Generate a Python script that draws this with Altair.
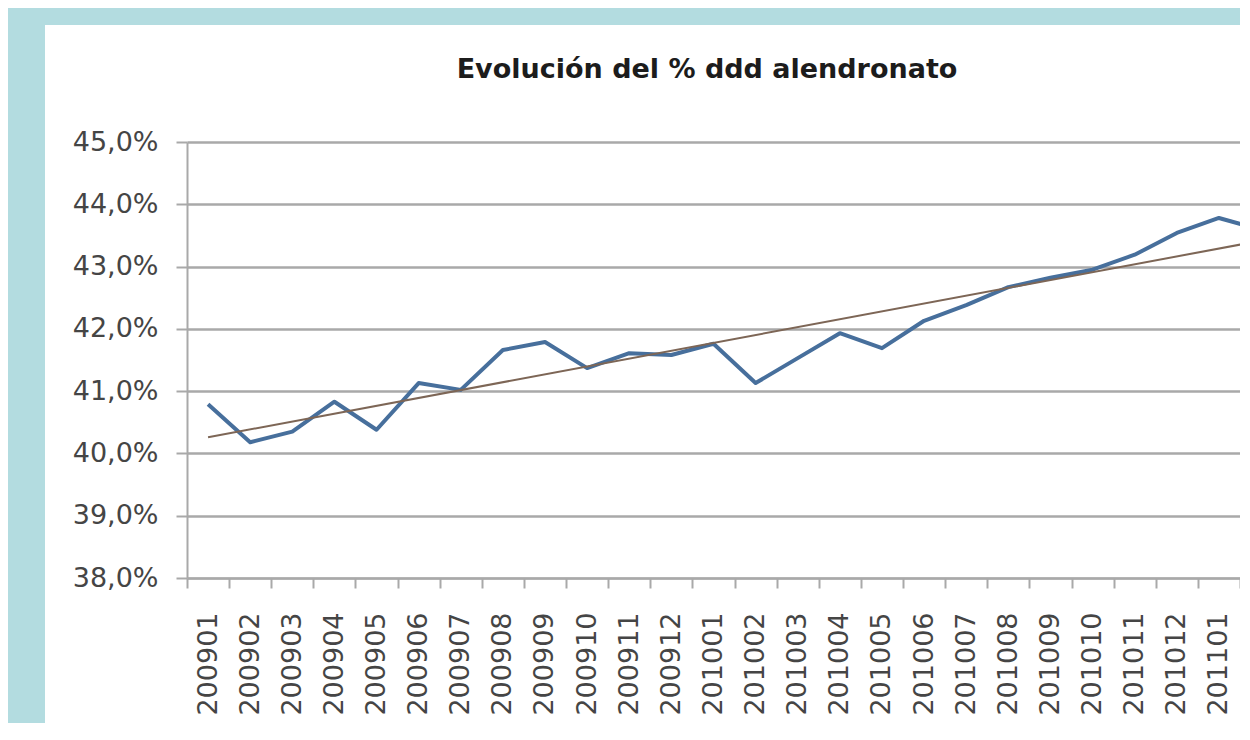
import altair as alt
import pandas as pd

# ---- data ----
months = ["200901", "200902", "200903", "200904", "200905", "200906",
          "200907", "200908", "200909", "200910", "200911", "200912",
          "201001", "201002", "201003", "201004", "201005", "201006",
          "201007", "201008", "201009", "201010", "201011", "201012",
          "201101", "201102"]
pct = [40.79, 40.18, 40.35, 40.83, 40.38, 41.13, 41.02, 41.66, 41.79, 41.37,
       41.61, 41.58, 41.76, 41.13, 41.53, 41.93, 41.69, 42.13, 42.38, 42.67,
       42.82, 42.95, 43.19, 43.54, 43.78, 43.59]
y_ticks = [38, 39, 40, 41, 42, 43, 44, 45]
title_text = "Evolución del % ddd alendronato"
visible_count = 25

df = pd.DataFrame({"idx": list(range(len(months))), "month": months, "pct": pct})

W, H = 1053, 436
PAD_L, PAD_T = 179, 134
FONT = "DejaVu Sans"
TXT = "#454545"
GRID = "#a9a9a9"

labels_js = "[" + ",".join("'" + m + "'" for m in months) + "]"
x_label_expr = (
    f"(datum.value + 0.5 < {visible_count}) ? "
    f"{labels_js}[round(datum.value + 0.5)] : ''"
)
x_tick_values = [i - 0.5 for i in range(visible_count + 1)]

x_enc = alt.X(
    "idx:Q",
    scale=alt.Scale(domain=[-0.5, visible_count - 0.5], nice=False, zero=False),
    axis=alt.Axis(
        values=x_tick_values, labelExpr=x_label_expr, title=None, grid=False,
        labelAngle=270, labelAlign="right", labelBaseline="middle",
        labelOffset=21, labelPadding=24, tickSize=10, tickColor=GRID,
        tickWidth=2, domainColor=GRID, domainWidth=2, labelFont=FONT,
        labelFontSize=27, labelColor=TXT, labelFlush=False,
        labelOverlap=False, labelBound=False,
    ),
)
y_enc = alt.Y(
    "pct:Q",
    scale=alt.Scale(domain=[38, 45], nice=False, zero=False),
    axis=alt.Axis(
        values=y_ticks,
        labelExpr="replace(format(datum.value, '.1f'), '.', ',') + '%'",
        title=None, grid=True, gridColor=GRID, gridWidth=2.5,
        tickSize=11, tickColor=GRID, tickWidth=2, labelPadding=18,
        domainColor=GRID, domainWidth=2, labelFont=FONT, labelFontSize=27,
        labelColor=TXT,
    ),
)

frame = alt.Data(values=[{"k": 1}])
blue = "#b3dce0"
left_strip = alt.Chart(frame).mark_rect(color=blue).encode(
    x=alt.value(-PAD_L - 5), x2=alt.value(-142),
    y=alt.value(-PAD_T - 5), y2=alt.value(H + 300),
)
top_strip = alt.Chart(frame).mark_rect(color=blue).encode(
    x=alt.value(-PAD_L - 5), x2=alt.value(W + 20),
    y=alt.value(-PAD_T - 5), y2=alt.value(-117),
)
title_mark = alt.Chart(frame).mark_text(
    font=FONT, fontSize=27, fontWeight="bold", color="#1c1c1c",
    align="center", baseline="middle",
).encode(x=alt.value(520), y=alt.value(-72), text=alt.value(title_text))

trend = alt.Chart(df).transform_regression("idx", "pct").mark_line(
    color="#7d6656", strokeWidth=2, clip=True
).encode(x=alt.X("idx:Q"), y=alt.Y("pct:Q"))

line = alt.Chart(df).mark_line(
    color="#476f9c", strokeWidth=4, clip=True, strokeJoin="round"
).encode(x=x_enc, y=y_enc)

chart = alt.layer(line, trend, left_strip, top_strip, title_mark).properties(
    width=W, height=H,
    padding={"left": PAD_L, "top": PAD_T, "right": 0, "bottom": 145},
    autosize=alt.AutoSizeParams(type="none"),
).configure(background="white").configure_view(stroke=None)

chart.save("out.html", embed_options={"renderer": "svg", "actions": False})
